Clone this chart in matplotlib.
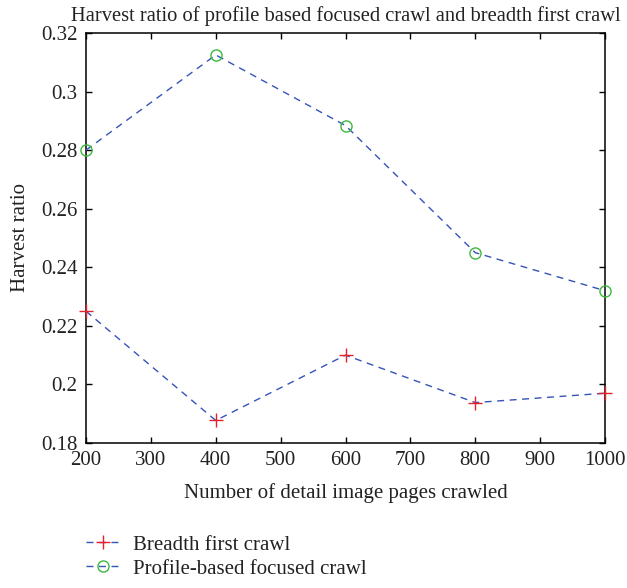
import matplotlib
matplotlib.use("Agg")
import matplotlib.pyplot as plt

pages = [200, 400, 600, 800, 1000]
breadth_first = [0.225, 0.1877, 0.210, 0.1938, 0.197]
profile_based = [0.280, 0.3125, 0.2884, 0.245, 0.232]
xticks = [200, 300, 400, 500, 600, 700, 800, 900, 1000]
yticks = [0.18, 0.2, 0.22, 0.24, 0.26, 0.28, 0.3, 0.32]
ytick_labels = ["0.18", "0.2", "0.22", "0.24", "0.26", "0.28", "0.3", "0.32"]

plt.rcParams['font.family'] = ['Liberation Serif', 'DejaVu Serif']

W, H = 627, 588
fig = plt.figure(figsize=(W/100, H/100), dpi=100)
ax = fig.add_axes([86/W, 1-443/H, (605-86)/W, (443-33)/H])

line_color = '#3553b8'
ax.plot(pages, breadth_first, linestyle='--', color=line_color, linewidth=1.0,
        dashes=(5, 4), marker='+', markeredgecolor='#e8202a', markersize=10,
        markeredgewidth=1.0, label='Breadth first crawl', clip_on=False, zorder=3)
ax.plot(pages, profile_based, linestyle='--', color=line_color, linewidth=1.0,
        dashes=(5, 4), marker='o', markerfacecolor='none', markeredgecolor='#3cb83c',
        markersize=8, markeredgewidth=1.0, label='Profile-based focused crawl',
        clip_on=False, zorder=3)

ax.set_xlim(200, 1000)
ax.set_ylim(0.18, 0.32)
ax.set_xticks(xticks)
ax.set_yticks(yticks)
ax.set_yticklabels(ytick_labels)
ax.tick_params(direction='in', top=True, right=True, labelsize=15, length=4.5, width=1,
               pad=6, colors='black', labelcolor='#222222')
for s in ax.spines.values():
    s.set_linewidth(1.1)

ax.set_title('Harvest ratio of profile based focused crawl and breadth first crawl',
             fontsize=14.8, pad=9, color='#222222')
ax.set_xlabel('Number of detail image pages crawled', fontsize=15, labelpad=9,
              color='#222222')
ax.set_ylabel('Harvest ratio', fontsize=15, labelpad=8, color='#222222')

fig.legend(loc='upper left', bbox_to_anchor=(86/W, 1-535/H), frameon=False,
           fontsize=15, handlelength=1.65, labelspacing=0.22, handletextpad=0.6,
           borderpad=0, borderaxespad=0, labelcolor='#222222')

fig.savefig('out.png', dpi=100)
